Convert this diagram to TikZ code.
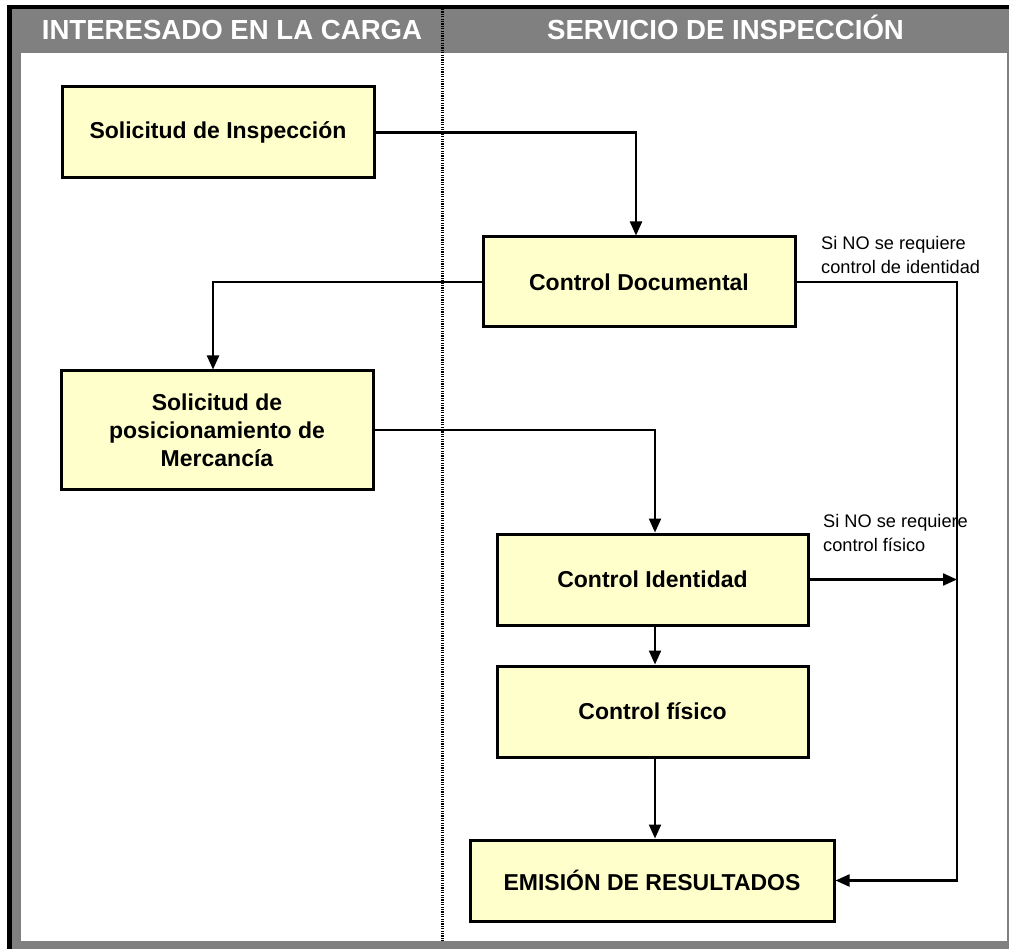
\documentclass[tikz,border=0pt]{standalone}
\usepackage{fontspec}
\setmainfont{Liberation Sans}
\usetikzlibrary{arrows.meta}
\definecolor{boxfill}{HTML}{FFFFCC}
\definecolor{framegray}{HTML}{808080}
\tikzset{
  procbox/.style={draw=black, line width=3pt, fill=boxfill, align=center,
    font=\fontsize{23}{28}\selectfont\bfseries, inner sep=2pt},
  arr/.style={line width=2.2pt, -{Triangle[length=14pt,width=12pt]}},
  note/.style={font=\fontsize{18.2}{24}\selectfont, align=left, inner sep=0pt, anchor=north west},
  headtxt/.style={font=\fontsize{27.6}{30}\selectfont\bfseries, text=white, anchor=base, inner sep=0pt}
}
\begin{document}
\begin{tikzpicture}[x=1pt,y=-1pt]
\useasboundingbox (0,0) rectangle (1009,949);
% frame
\fill[white] (0,0) rectangle (1009,949);
\fill[black] (7,5) rectangle (1009,9);
\fill[black] (7,5) rectangle (12,949);
\fill[framegray] (12,9) rectangle (1009,53);
\fill[framegray] (12,53) rectangle (21,949);
\fill[framegray] (12,941) rectangle (1009,949);
\fill[framegray] (1007,53) rectangle (1009,949);
\draw[black, line width=2.6pt, dash pattern=on 1.2pt off 1.2pt] (442.5,9) -- (442.5,942);
% headers
\node[headtxt] (h1) at (232,40) {INTERESADO EN LA CARGA};
\node[headtxt] (h2) at (725.5,40) {SERVICIO DE INSPECCIÓN};
% boxes
\node[procbox, minimum width=312pt, minimum height=91pt] (b1) at (218,132.5) {Solicitud de Inspección};
\node[procbox, minimum width=312pt, minimum height=90pt] (b2) at (639,282) {Control Documental};
\node[procbox, minimum width=312pt, minimum height=118pt] (b3) at (217,430) {Solicitud de\\posicionamiento de\\Mercancía};
\node[procbox, minimum width=311pt, minimum height=91pt] (b4) at (652.5,579.5) {Control Identidad};
\node[procbox, minimum width=311pt, minimum height=91pt] (b5) at (652.5,711.5) {Control físico};
\node[procbox, minimum width=364pt, minimum height=81pt] (b6) at (652,880.5) {EMISIÓN DE RESULTADOS};
% connector points
\coordinate (c1) at (636,132.5);
\coordinate (c2) at (213,282);
\coordinate (c3) at (655,430);
\coordinate (rt) at (957,282);
\coordinate (rb) at (957,880.5);
% connectors
\draw[arr] (b1.east) -- (c1) -- (c1 |- b2.north);
\draw[arr] (b2.west) -- (c2) -- (c2 |- b3.north);
\draw[arr] (b3.east) -- (c3) -- (c3 |- b4.north);
\draw[arr] (b2.east) -- (rt) -- (rb) -- (b6.east);
\draw[arr] (b4.east) -- (b4.east -| rt);
\draw[arr] (c3 |- b4.south) -- (c3 |- b5.north);
\draw[arr] (c3 |- b5.south) -- (c3 |- b6.north);
% notes
\node[note] (n1) at (821,236) {Si NO se requiere\\control de identidad};
\node[note] (n2) at (823,514) {Si NO se requiere\\control físico};
\end{tikzpicture}
\end{document}
